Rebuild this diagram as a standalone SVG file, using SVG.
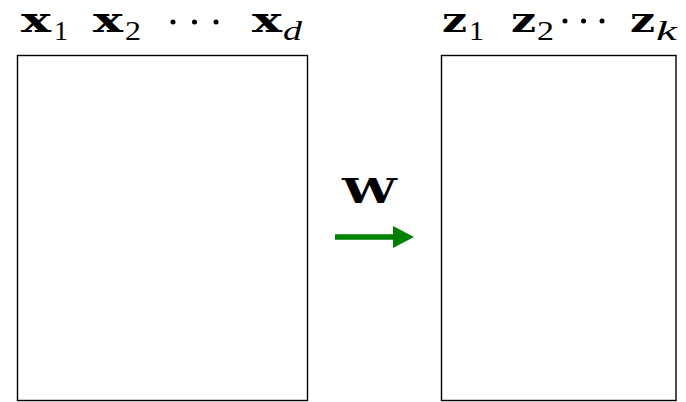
<svg xmlns="http://www.w3.org/2000/svg" width="686" height="402" viewBox="0 0 686 402">
<style>
.box{fill:#fff;stroke:#000;stroke-width:1.4}
.b{font-family:"DejaVu Serif",serif;font-weight:bold;font-size:34px;fill:#000}
.s{font-family:"Liberation Serif",serif;font-size:27px;fill:#000}
.i{font-family:"Liberation Serif",serif;font-style:italic;font-size:28px;fill:#000}
.w{font-family:"DejaVu Serif",serif;font-weight:bold;font-size:34px;fill:#000}
</style>
<rect width="686" height="402" fill="#fff"/>
<g id="input">
<rect class="box" x="17.5" y="55.5" width="290" height="345"/>
<text class="b" x="21" y="32" textLength="30" lengthAdjust="spacingAndGlyphs">x</text>
<text class="s" x="54" y="40" textLength="14" lengthAdjust="spacingAndGlyphs">1</text>
<text class="b" x="93" y="32" textLength="30" lengthAdjust="spacingAndGlyphs">x</text>
<text class="s" x="125" y="40" textLength="16" lengthAdjust="spacingAndGlyphs">2</text>
<circle cx="173" cy="22" r="2.5"/>
<circle cx="194.5" cy="22" r="2.5"/>
<circle cx="216" cy="22" r="2.5"/>
<text class="b" x="252" y="32" textLength="30" lengthAdjust="spacingAndGlyphs">x</text>
<text class="i" x="283" y="40" textLength="19" lengthAdjust="spacingAndGlyphs">d</text>
</g>
<g id="output">
<rect class="box" x="441.5" y="55.5" width="234.5" height="345"/>
<text class="b" x="442" y="32" textLength="25" lengthAdjust="spacingAndGlyphs">z</text>
<text class="s" x="469" y="40" textLength="15" lengthAdjust="spacingAndGlyphs">1</text>
<text class="b" x="511" y="32" textLength="25" lengthAdjust="spacingAndGlyphs">z</text>
<text class="s" x="537" y="40" textLength="17" lengthAdjust="spacingAndGlyphs">2</text>
<circle cx="565" cy="21" r="2.5"/>
<circle cx="583.5" cy="21" r="2.5"/>
<circle cx="602" cy="21" r="2.5"/>
<text class="b" x="630" y="32" textLength="25" lengthAdjust="spacingAndGlyphs">z</text>
<text class="i" x="656" y="40" textLength="21" lengthAdjust="spacingAndGlyphs">k</text>
</g>
<g id="connectors">
<text class="w" x="342" y="203" textLength="55" lengthAdjust="spacingAndGlyphs">W</text>
<line x1="335" y1="237" x2="395" y2="237" stroke="#008000" stroke-width="5.5"/>
<polygon points="393,226 414,237 393,248" fill="#008000"/>
</g>
</svg>
